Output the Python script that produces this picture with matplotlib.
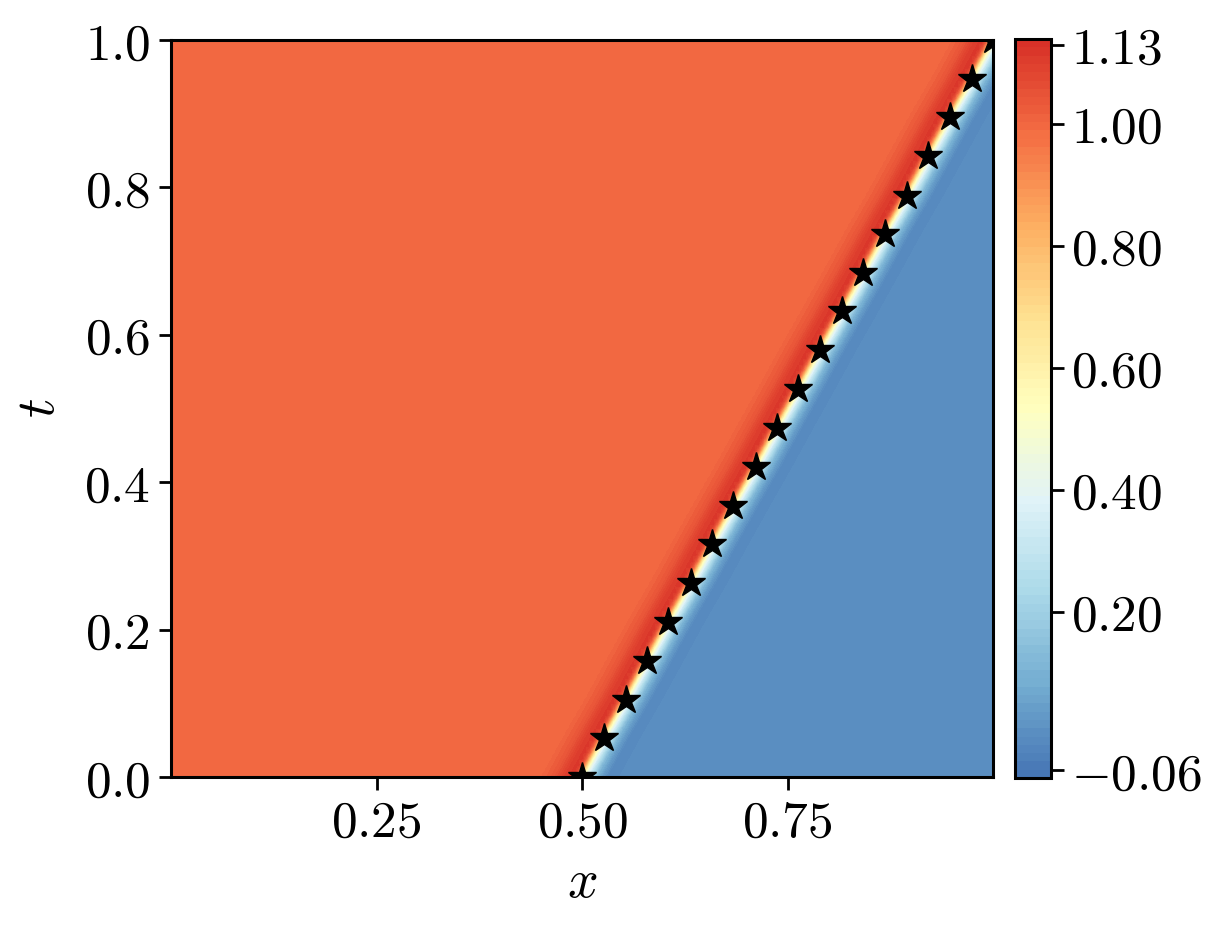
import numpy as np
import matplotlib
matplotlib.use("Agg")
import matplotlib.pyplot as plt
from matplotlib.colors import ListedColormap
from matplotlib.ticker import FixedLocator, FuncFormatter

plt.rcParams["mathtext.fontset"] = "cm"
plt.rcParams["font.family"] = ["DejaVu Serif"]

# ---- data ----
# shock markers (stars)
star_t = [0.000, 0.053, 0.105, 0.158, 0.211, 0.263, 0.316, 0.368, 0.421, 0.474,
          0.526, 0.579, 0.632, 0.684, 0.737, 0.789, 0.842, 0.895, 0.947, 1.000]
star_x = [0.500, 0.526, 0.553, 0.579, 0.605, 0.632, 0.658, 0.684, 0.711, 0.737,
          0.763, 0.789, 0.816, 0.842, 0.868, 0.895, 0.921, 0.947, 0.974, 1.000]

# cross-shock profile of u (offset from shock position in x -> value)
profile_offset = [-0.050, -0.034, -0.022, -0.012, -0.007, -0.0035, 0.000,
                  0.005, 0.010, 0.016, 0.023, 0.032, 0.050]
profile_value = [1.00, 1.04, 1.10, 1.12, 1.00, 0.80, 0.55,
                 0.38, 0.25, 0.12, 0.04, -0.02, 0.00]

# grid extent of the field
x_range = (0.0, 1.0)
t_range = (0.0, 0.996)

# colour bar range and ticks
cbar_min, cbar_max = -0.073, 1.139
cbar_ticks = [-0.06, 0.20, 0.40, 0.60, 0.80, 1.00, 1.13]
x_ticks = [0.25, 0.50, 0.75]
y_ticks = [0.0, 0.2, 0.4, 0.6, 0.8, 1.0]

# ---- build field ----
xg = np.linspace(x_range[0], x_range[1], 600)
tg = np.linspace(t_range[0], t_range[1], 120)
X, T = np.meshgrid(xg, tg)
S = np.interp(T, star_t, star_x)
U = np.interp(X - S, profile_offset, profile_value)

base = plt.get_cmap("RdYlBu_r")
cmap = ListedColormap(base(np.linspace(0.1, 0.9, 256)))
levels = np.linspace(cbar_min, cbar_max, 90)

fig = plt.figure(figsize=(12.31, 9.30), dpi=100)
ax = fig.add_axes([0.139, 0.1645, 0.6678, 0.7925])
cf = ax.contourf(X, T, U, levels=levels, cmap=cmap, vmin=cbar_min, vmax=cbar_max)
ax.plot(star_x, star_t, linestyle="none", marker="*", color="black",
        markersize=21, zorder=5)
ax.set_xlim(0.0, 1.0)
ax.set_ylim(0.0, 1.0)

fs = 37
ax.xaxis.set_major_locator(FixedLocator(x_ticks))
ax.yaxis.set_major_locator(FixedLocator(y_ticks))
ax.xaxis.set_major_formatter(FuncFormatter(lambda v, p: "$%.2f$" % v))
ax.yaxis.set_major_formatter(FuncFormatter(lambda v, p: "$%.1f$" % v))
ax.tick_params(labelsize=fs, length=9, width=2, pad=6)
for sp in ax.spines.values():
    sp.set_linewidth(2.2)
ax.set_xlabel("$x$", fontsize=fs + 2, labelpad=6)
ax.set_ylabel("$t$", fontsize=fs + 2, labelpad=14)

cax = fig.add_axes([0.8245, 0.1634, 0.029, 0.7946])
cb = fig.colorbar(cf, cax=cax)
cb.set_ticks(cbar_ticks)
cb.ax.yaxis.set_major_formatter(FuncFormatter(lambda v, p: "$%.2f$" % v))
cb.ax.tick_params(labelsize=fs, length=9, width=2, pad=6)
cb.outline.set_linewidth(2.2)
cb.ax.minorticks_off()

fig.savefig("out.png", dpi=100)
